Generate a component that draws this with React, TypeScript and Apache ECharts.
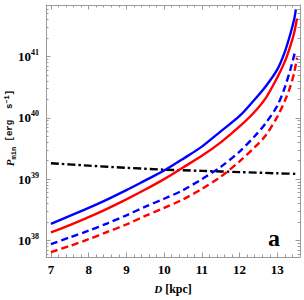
import React, { useEffect, useRef } from "react";
import * as echarts from "echarts";

// Distance D [kpc] and log10 of P_min [erg s^-1]
const dBlueSolid = [7, 7.5, 8, 8.5, 9, 9.5, 10, 10.5, 11, 11.5, 12, 12.4, 12.7, 13, 13.2, 13.35, 13.45, 13.49];
const logBlueSolid = [38.27, 38.4, 38.53, 38.67, 38.82, 38.98, 39.14, 39.33, 39.53, 39.78, 40.03, 40.3, 40.52, 40.79, 41.08, 41.38, 41.62, 41.77];

const dRedSolid = [7, 7.5, 8, 8.5, 9, 9.5, 10, 10.5, 11, 11.5, 12, 12.4, 12.7, 13, 13.2, 13.35, 13.45, 13.52];
const logRedSolid = [38.13, 38.25, 38.38, 38.52, 38.67, 38.83, 39.0, 39.19, 39.38, 39.6, 39.86, 40.1, 40.33, 40.66, 40.92, 41.18, 41.4, 41.62];

const dBlueDashed = [7, 7.5, 8, 8.5, 9, 9.5, 10, 10.5, 11, 11.5, 12, 12.4, 12.7, 13, 13.2, 13.35, 13.47];
const logBlueDashed = [37.94, 38.05, 38.16, 38.28, 38.41, 38.55, 38.68, 38.82, 39.0, 39.2, 39.45, 39.7, 39.92, 40.2, 40.5, 40.8, 41.08];

const dRedDashed = [7, 7.5, 8, 8.5, 9, 9.5, 10, 10.5, 11, 11.5, 12, 12.4, 12.7, 13, 13.2, 13.35, 13.45, 13.52];
const logRedDashed = [37.81, 37.91, 38.02, 38.14, 38.26, 38.4, 38.53, 38.67, 38.84, 39.04, 39.29, 39.52, 39.72, 40.02, 40.28, 40.52, 40.75, 40.98];

const dBlack = [7, 8, 9, 10, 11, 12, 13, 13.55];
const logBlack = [39.26, 39.22, 39.185, 39.155, 39.135, 39.115, 39.095, 39.085];

const xTickLabels = [7, 8, 9, 10, 11, 12, 13];
const yDecades = [38, 39, 40, 41];

const X_MIN = 6.87;
const X_MAX = 13.6;
const Y_MIN = 37.73;
const Y_MAX = 41.84;

const pairs = (xs: number[], ys: number[]) => xs.map((x, i) => [x, ys[i]]);

const minorLogTicks: number[] = [];
for (let n = 37; n <= 41; n++) {
  for (let k = 2; k <= 9; k++) {
    const v = n + Math.log10(k);
    if (v > Y_MIN && v < Y_MAX) minorLogTicks.push(v);
  }
}

const FRAME = "#9a9a9a";
const SERIF = "Liberation Serif";

export default function App() {
  const ref = useRef<HTMLDivElement>(null);
  useEffect(() => {
    if (!ref.current) return;
    const chart = echarts.init(ref.current, undefined, { renderer: "svg" });

    const baseY = (pos: "left" | "right", minor: boolean, showLabels: boolean) => ({
      type: "value",
      position: pos,
      min: Y_MIN,
      max: Y_MAX,
      axisLine: { show: !minor, lineStyle: { color: FRAME, width: 1 } },
      axisTick: {
        show: true,
        inside: true,
        length: minor ? 2.5 : 4.5,
        customValues: minor ? minorLogTicks : yDecades,
        lineStyle: { color: FRAME, width: 1 },
      },
      axisLabel: {
        show: showLabels,
        customValues: yDecades,
        margin: 7,
        formatter: (v: number) => `{b|10}{s|${Math.round(v)}}`,
        rich: {
          b: { fontFamily: SERIF, fontWeight: "bold", fontSize: 13, color: "#000" },
          s: { fontFamily: SERIF, fontWeight: "bold", fontSize: 8, color: "#000", padding: [0, 0, 8, 0] },
        },
      },
      splitLine: { show: false },
    });

    const baseX = (pos: "bottom" | "top", showLabels: boolean) => ({
      type: "value",
      position: pos,
      min: X_MIN,
      max: X_MAX,
      name: pos === "bottom" ? "{i|D}{n| [kpc]}" : "",
      nameLocation: "middle",
      nameGap: 26,
      nameTextStyle: {
        color: "#000",
        rich: {
          i: { fontFamily: SERIF, fontStyle: "italic", fontWeight: "bold", fontSize: 11 },
          n: { fontFamily: SERIF, fontWeight: "bold", fontSize: 12 },
        },
      },
      axisLine: { show: true, lineStyle: { color: FRAME, width: 1 } },
      axisTick: { show: true, inside: true, length: 4.5, customValues: xTickLabels, lineStyle: { color: FRAME } },
      minorTick: { show: true, splitNumber: 5, length: 2.5, lineStyle: { color: FRAME } },
      axisLabel: {
        show: showLabels,
        customValues: xTickLabels,
        margin: 6,
        color: "#000",
        fontFamily: SERIF,
        fontWeight: "bold",
        fontSize: 13,
      },
      splitLine: { show: false },
    });

    const line = (name: string, data: number[][], color: string, type: any) => ({
      name,
      type: "line",
      data,
      xAxisIndex: 0,
      yAxisIndex: 0,
      showSymbol: false,
      smooth: 0.3,
      lineStyle: { color, width: 2.4, type, cap: "butt" },
    });

    chart.setOption({
      animation: false,
      backgroundColor: "#fff",
      grid: { left: 46, top: 5, right: 4, bottom: 40, containLabel: false },
      xAxis: [baseX("bottom", true), baseX("top", false)],
      yAxis: [
        baseY("left", false, true),
        baseY("left", true, false),
        baseY("right", false, false),
        baseY("right", true, false),
      ],
      series: [
        line("black", pairs(dBlack, logBlack), "#000", [8, 3, 2.5, 3]),
        line("red dashed", pairs(dRedDashed, logRedDashed), "#ff0000", [7, 4]),
        line("blue dashed", pairs(dBlueDashed, logBlueDashed), "#0000ff", [7, 4]),
        line("red solid", pairs(dRedSolid, logRedSolid), "#ff0000", "solid"),
        line("blue solid", pairs(dBlueSolid, logBlueSolid), "#0000ff", "solid"),
      ],
      graphic: [
        {
          type: "text",
          x: 10,
          y: 128,
          rotation: Math.PI / 2,
          style: {
            text: "{p|P}{sub|min}{n| [erg  s}{sup|−1}{n|]}",
            align: "center",
            verticalAlign: "middle",
            fill: "#000",
            rich: {
              p: { fontFamily: SERIF, fontStyle: "italic", fontWeight: "bold", fontSize: 11, fill: "#000" },
              sub: { fontFamily: "Liberation Mono", fontWeight: "bold", fontSize: 7, padding: [7, 0, 0, 0], fill: "#000" },
              n: { fontFamily: "Liberation Mono", fontWeight: "bold", fontSize: 9, fill: "#000" },
              sup: { fontFamily: "Liberation Mono", fontWeight: "bold", fontSize: 7, padding: [0, 0, 7, 0], fill: "#000" },
            },
          },
        },
        {
          type: "text",
          left: 268,
          top: 226,
          style: { text: "a", fontFamily: SERIF, fontWeight: "bold", fontSize: 24, fill: "#000" },
        },
      ],
    });
    return () => chart.dispose();
  }, []);
  return <div ref={ref} style={{ position: "fixed", left: 0, top: 0, width: 304, height: 300 }} />;
}
